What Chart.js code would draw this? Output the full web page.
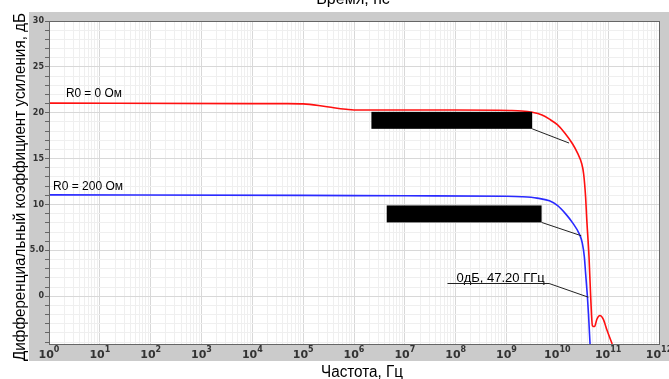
<!DOCTYPE html>
<html>
<head>
<meta charset="utf-8">
<script src="https://cdn.jsdelivr.net/npm/chart.js@4/dist/chart.umd.min.js"></script>
<style>
  body { margin: 0; background: #fff; }
  canvas { display: block; }
</style>
</head>
<body>
<canvas id="c" width="669" height="379"></canvas>
<script>
// R0 = 0 Ом (red)
const freqRed = [1, 1e4, 5e4, 1e5, 2e5, 4e5, 7e5, 1e6, 1e8, 1.15e9, 2e9, 3.2e9, 5e9, 7e9, 1e10, 1.4e10, 2e10, 2.5e10, 3e10, 3.3e10, 3.6e10, 3.8e10, 4.2e10, 4.5e10, 4.9e10, 5.4e10, 6e10, 6.9e10, 8e10, 9.5e10, 1.2e11];
const gainRed = [21.05, 21.0, 21.0, 20.97, 20.8, 20.55, 20.38, 20.3, 20.3, 20.25, 20.2, 20.05, 19.75, 19.3, 18.7, 17.8, 16.6, 15.6, 14.5, 13.3, 10.8, 8.3, 4.3, 0.3, -3.2, -3.3, -2.5, -2.1, -2.5, -3.7, -5.2];

// R0 = 200 Ом (blue)
const freqBlue = [1, 1e5, 1e7, 1e9, 2e9, 4e9, 7e9, 1e10, 1.5e10, 2e10, 2.7e10, 3.1e10, 3.4e10, 3.6e10, 3.9e10, 4.1e10, 4.4e10];
const gainBlue = [11.05, 11.0, 10.95, 10.9, 10.85, 10.7, 10.4, 9.9, 8.9, 8.0, 6.8, 5.8, 4.3, 2.5, 0.0, -1.9, -5.2];

const yLabels = [0, 5, 10, 15, 20, 25, 30];
const xDecades = [0, 1, 2, 3, 4, 5, 6, 7, 8, 9, 10, 11, 12];

// annotations, in data coordinates (Hz, dB)
const seriesLabels = [
  { text: "R0 = 0 Ом", f: 2.15, db: 22.05, w: 56 },
  { text: "R0 = 200 Ом", f: 1.2, db: 11.95, w: 72 }
];
const hiddenBoxes = [
  { f1: 2.2e6, f2: 3.2e9, db1: 20.1, db2: 18.25, tf: 1.7e10, tdb: 16.7 },
  { f1: 4.4e6, f2: 4.9e9, db1: 9.9, db2: 8.05, tf: 2.95e10, tdb: 6.6 }
];
const marker = { text: "0дБ, 47.20 ГГц", f1: 6.9e7, f2: 6.9e9, db: 1.4, tf: 4.07e10, tdb: -0.1 };

function isDecade(v) { const l = Math.log10(v); return Math.abs(l - Math.round(l)) < 1e-9; }

const decorations = {
  id: "decorations",
  beforeDraw(chart) {
    const c = chart.ctx, a = chart.chartArea;
    c.save();
    c.fillStyle = "#fff";
    c.fillRect(0, 0, chart.width, chart.height);
    c.fillStyle = "#cbcbcb";
    c.fillRect(a.left - 20, a.top - 9, chart.width - (a.left - 20), a.bottom - a.top + 26);
    c.fillStyle = "#fff";
    c.fillRect(a.left, a.top, a.right - a.left, a.bottom - a.top);
    c.restore();
  },
  afterDatasetsDraw(chart) {
    const c = chart.ctx, a = chart.chartArea;
    const xs = chart.scales.x, ys = chart.scales.y;
    c.save();
    // plot frame
    c.strokeStyle = "#666";
    c.lineWidth = 1;
    c.strokeRect(a.left + 0.5, a.top + 0.5, a.right - a.left, a.bottom - a.top);

    c.fillStyle = "#000";
    c.font = "12px 'Liberation Sans', Arial, sans-serif";
    c.textBaseline = "middle";
    c.textAlign = "left";
    seriesLabels.forEach(l => {
      c.fillText(l.text, xs.getPixelForValue(l.f), ys.getPixelForValue(l.db), l.w);
    });

    c.strokeStyle = "#222";
    hiddenBoxes.forEach(b => {
      const x1 = xs.getPixelForValue(b.f1), x2 = xs.getPixelForValue(b.f2);
      const y1 = ys.getPixelForValue(b.db1), y2 = ys.getPixelForValue(b.db2);
      c.fillStyle = "#000";
      c.fillRect(x1, y1, x2 - x1, y2 - y1);
      c.beginPath();
      c.moveTo(x2, y2);
      c.lineTo(xs.getPixelForValue(b.tf), ys.getPixelForValue(b.tdb));
      c.stroke();
    });

    const mx1 = xs.getPixelForValue(marker.f1), mx2 = xs.getPixelForValue(marker.f2);
    const my = Math.round(ys.getPixelForValue(marker.db)) + 0.5;
    c.fillStyle = "#000";
    c.font = "13px 'Liberation Sans', Arial, sans-serif";
    c.textBaseline = "alphabetic";
    c.fillText(marker.text, mx1 + 9, my - 2, mx2 - mx1 - 10);
    c.beginPath();
    c.moveTo(mx1, my);
    c.lineTo(mx2, my);
    c.lineTo(xs.getPixelForValue(marker.tf), ys.getPixelForValue(marker.tdb));
    c.stroke();
    c.restore();
  },
  afterDraw(chart) {
    const c = chart.ctx, a = chart.chartArea, xs = chart.scales.x;
    c.save();
    // x tick labels 10^n with raised exponent
    c.fillStyle = "#333";
    c.textBaseline = "alphabetic";
    c.textAlign = "left";
    xDecades.forEach(e => {
      const px = xs.getPixelForValue(Math.pow(10, e));
      c.font = "bold 11px 'DejaVu Sans', sans-serif";
      const wb = c.measureText("10").width;
      c.font = "bold 8px 'DejaVu Sans', sans-serif";
      const we = c.measureText(String(e)).width;
      const x0 = px - (wb + we) / 2;
      c.font = "bold 11px 'DejaVu Sans', sans-serif";
      c.fillText("10", x0, a.bottom + 14);
      c.font = "bold 8px 'DejaVu Sans', sans-serif";
      c.fillText(String(e), x0 + wb, a.bottom + 8);
    });

    c.fillStyle = "#000";
    c.font = "16px 'Liberation Sans', Arial, sans-serif";
    c.textAlign = "center";
    c.fillText("Время, пс", (a.left + a.right) / 2 - 1, 4, 78);
    c.fillText("Частота, Гц", (a.left + a.right) / 2 + 8, 377, 82);
    c.translate(25, 187);
    c.rotate(-Math.PI / 2);
    c.fillText("Дифференциальный коэффициент усиления, дБ", 0, 0, 348);
    c.restore();
  }
};

new Chart(document.getElementById("c"), {
  type: "line",
  data: {
    datasets: [
      {
        label: "R0 = 0 Ом",
        data: freqRed.map((f, i) => ({ x: f, y: gainRed[i] })),
        borderColor: "#ff1010",
        borderWidth: 1.6,
        cubicInterpolationMode: "monotone",
        fill: false
      },
      {
        label: "R0 = 200 Ом",
        data: freqBlue.map((f, i) => ({ x: f, y: gainBlue[i] })),
        borderColor: "#2a2aff",
        borderWidth: 1.6,
        cubicInterpolationMode: "monotone",
        fill: false
      }
    ]
  },
  options: {
    responsive: false,
    animation: false,
    layout: { padding: { top: 21, right: 10, left: 0, bottom: 0 } },
    elements: { point: { radius: 0 } },
    plugins: { legend: { display: false }, tooltip: { enabled: false } },
    scales: {
      x: {
        type: "logarithmic",
        min: 1,
        max: 1e12,
        afterBuildTicks(scale) {
          const t = [];
          for (let e = 0; e < 12; e++) for (let n = 1; n < 10; n++) t.push({ value: n * Math.pow(10, e) });
          t.push({ value: 1e12 });
          scale.ticks = t;
        },
        afterFit(scale) { scale.height = 35; scale.paddingLeft = 0; scale.paddingRight = 0; },
        grid: {
          color: ctx => (ctx.tick && isDecade(ctx.tick.value)) ? "#d8d8d8" : "#efefef",
          drawTicks: false
        },
        border: { color: "#666" },
        ticks: { display: false, autoSkip: false, maxRotation: 0 }
      },
      y: {
        min: -5.2,
        max: 30,
        afterBuildTicks(scale) {
          const t = [];
          for (let v = -5; v <= 30; v++) t.push({ value: v });
          scale.ticks = t;
        },
        afterFit(scale) { scale.width = 49; scale.paddingTop = 0; scale.paddingBottom = 0; },
        grid: {
          color: ctx => (ctx.tick && ctx.tick.value % 5 === 0 && ctx.tick.value >= 0) ? "#d8d8d8" : "#efefef",
          tickColor: "#666",
          tickLength: 4
        },
        border: { color: "#666" },
        ticks: {
          autoSkip: false,
          padding: 1,
          color: "#333",
          font: { family: "'DejaVu Sans', sans-serif", weight: "bold", size: 8 },
          callback: v => yLabels.includes(v) ? (v === 5 ? "5.0" : String(v)) : ""
        }
      }
    }
  },
  plugins: [decorations]
});
</script>
</body>
</html>
